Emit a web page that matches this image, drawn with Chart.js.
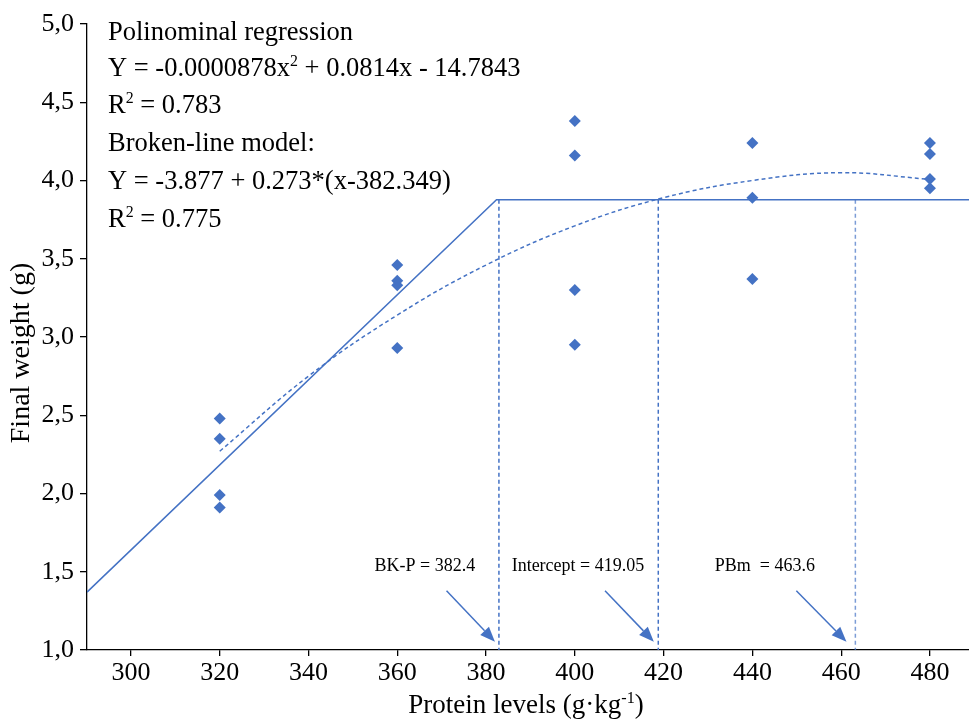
<!DOCTYPE html>
<html>
<head>
<meta charset="utf-8">
<script src="https://cdn.jsdelivr.net/npm/chart.js@4.4.1/dist/chart.umd.min.js"></script>
<style>
  html, body { margin: 0; padding: 0; background: #fff; overflow: hidden; }
  #wrap { width: 975px; height: 720px; position: relative; }
</style>
</head>
<body>
<div id="wrap"><canvas id="weightChart"></canvas></div>
<script>
// observed final weights per protein level
const proteinLevels = [320, 360, 400, 440, 480];
const finalWeights = [
    [2.48, 2.35, 1.99, 1.91],
    [3.46, 3.36, 3.33, 2.93],
    [4.38, 4.16, 3.30, 2.95],
    [4.24, 3.89, 3.37],
    [4.24, 4.17, 4.01, 3.95]
];

// broken-line model
const brokenX = [290.1, 382.35, 488.8];
const brokenY = [1.37, 3.877, 3.877];

// polynomial curve
const polyX = [320, 340, 360, 380, 400, 420, 440, 460, 479];
const polyY = [2.27, 2.75, 3.14, 3.46, 3.71, 3.89, 4.00, 4.05, 4.01];

// vertical reference lines: BK-P, intercept, PBm
const cutX = [382.9, 418.8, 463.2];
const cutTop = 3.877;
const cutLabels = ['BK-P = 382.4', 'Intercept = 419.05', 'PBm  = 463.6'];

// arrows pointing at the reference lines
const arrowFromX = [371.1, 406.8, 449.9];
const arrowToX = [382.0, 417.8, 461.2];
const arrowFromY = 1.378;
const arrowToY = 1.053;
const labelX = [366.2, 400.7, 442.8];
const labelY = 1.537;

const xTicks = [300, 320, 340, 360, 380, 400, 420, 440, 460, 480];
const yTicks = [1.0, 1.5, 2.0, 2.5, 3.0, 3.5, 4.0, 4.5, 5.0];

const BLUE = '#4472C4';
const SERIF = "'Times New Roman', 'Liberation Serif', serif";

const points = [];
proteinLevels.forEach((lvl, i) => {
    finalWeights[i].forEach(w => points.push({ x: lvl, y: w }));
});

const datasets = [
    {
        data: points,
        pointStyle: 'rectRot',
        pointRadius: 6,
        backgroundColor: BLUE,
        borderColor: BLUE,
        borderWidth: 0,
        showLine: false,
        order: 0
    },
    {
        data: brokenX.map((x, i) => ({ x: x, y: brokenY[i] })),
        showLine: true,
        borderColor: BLUE,
        borderWidth: 1.5,
        pointRadius: 0,
        order: 1
    },
    {
        data: polyX.map((x, i) => ({ x: x, y: polyY[i] })),
        showLine: true,
        borderColor: BLUE,
        borderWidth: 1.5,
        borderDash: [4, 3],
        tension: 0.4,
        pointRadius: 0,
        order: 1
    }
];

cutX.forEach((x, i) => {
    datasets.push({
        data: [{ x: x, y: cutTop }, { x: x, y: 1.0 }],
        showLine: true,
        borderColor: i === 2 ? 'rgba(68,114,196,0.7)' : BLUE,
        borderWidth: 1.5,
        borderDash: [4, 3],
        pointRadius: 0,
        order: 2
    });
});

function drawRich(ctx, parts, x, y, size) {
    let cx = x;
    parts.forEach(p => {
        const sup = p[1];
        const fs = sup ? size * 0.6 : size;
        ctx.font = fs + 'px ' + SERIF;
        ctx.fillText(p[0], cx, sup ? y - size * 0.38 : y);
        cx += ctx.measureText(p[0]).width;
    });
    return cx - x;
}

function measureRich(ctx, parts, size) {
    let w = 0;
    parts.forEach(p => {
        ctx.font = (p[1] ? size * 0.6 : size) + 'px ' + SERIF;
        w += ctx.measureText(p[0]).width;
    });
    return w;
}

const annotations = {
    id: 'annotations',
    afterDatasetsDraw(chart) {
        const ctx = chart.ctx;
        const xs = chart.scales.x;
        const ys = chart.scales.y;
        ctx.save();

        // arrows
        ctx.strokeStyle = BLUE;
        ctx.fillStyle = BLUE;
        ctx.lineWidth = 1.5;
        arrowFromX.forEach((fx, i) => {
            const x1 = xs.getPixelForValue(fx), y1 = ys.getPixelForValue(arrowFromY);
            const x2 = xs.getPixelForValue(arrowToX[i]), y2 = ys.getPixelForValue(arrowToY);
            const ang = Math.atan2(y2 - y1, x2 - x1);
            const len = 15, hw = 6;
            const bx = x2 - Math.cos(ang) * len, by = y2 - Math.sin(ang) * len;
            ctx.beginPath();
            ctx.moveTo(x1, y1);
            ctx.lineTo(bx, by);
            ctx.stroke();
            ctx.beginPath();
            ctx.moveTo(x2, y2);
            ctx.lineTo(bx + Math.sin(ang) * hw, by - Math.cos(ang) * hw);
            ctx.lineTo(bx - Math.sin(ang) * hw, by + Math.cos(ang) * hw);
            ctx.closePath();
            ctx.fill();
        });

        // labels above the arrows
        ctx.fillStyle = '#000';
        ctx.font = '18px ' + SERIF;
        ctx.textAlign = 'center';
        ctx.textBaseline = 'middle';
        cutLabels.forEach((t, i) => {
            ctx.fillText(t, xs.getPixelForValue(labelX[i]), ys.getPixelForValue(labelY));
        });
        ctx.restore();
    },
    afterDraw(chart) {
        const ctx = chart.ctx;
        const area = chart.chartArea;
        ctx.save();
        ctx.fillStyle = '#000';
        ctx.textAlign = 'left';
        ctx.textBaseline = 'alphabetic';

        // equations block
        const lines = [
            [['Polinominal regression', false]],
            [['Y = -0.0000878x', false], ['2', true], [' + 0.0814x - 14.7843', false]],
            [['R', false], ['2', true], [' = 0.783', false]],
            [['Broken-line model:', false]],
            [['Y = -3.877 + 0.273*(x-382.349)', false]],
            [['R', false], ['2', true], [' = 0.775', false]]
        ];
        const baselines = [40, 76, 113, 151, 189, 227];
        lines.forEach((parts, i) => drawRich(ctx, parts, area.left + 21, baselines[i], 26.5));

        // x axis title
        const xt = [['Protein levels (g\u00b7kg', false], ['-1', true], [')', false]];
        const w = measureRich(ctx, xt, 27);
        drawRich(ctx, xt, 526 - w / 2, 713, 27);

        // y axis title
        ctx.translate(22, 353);
        ctx.rotate(-Math.PI / 2);
        ctx.textAlign = 'center';
        ctx.textBaseline = 'middle';
        ctx.font = '28px ' + SERIF;
        ctx.fillText('Final weight (g)', 0, 0);
        ctx.restore();
    }
};

new Chart(document.getElementById('weightChart'), {
    type: 'scatter',
    data: { datasets: datasets },
    options: {
        responsive: true,
        maintainAspectRatio: false,
        animation: false,
        layout: { padding: { top: 24, right: 0, bottom: 0, left: 0 } },
        plugins: {
            legend: { display: false },
            tooltip: { enabled: false }
        },
        scales: {
            x: {
                type: 'linear',
                min: 290.1,
                max: 488.8,
                afterBuildTicks: scale => { scale.ticks = xTicks.map(v => ({ value: v })); },
                afterFit: scale => { scale.height = 70; },
                grid: { drawOnChartArea: false, drawTicks: true, tickLength: 6, color: '#000', lineWidth: 1.3 },
                border: { color: '#000', width: 1.3 },
                ticks: {
                    color: '#000',
                    padding: 2,
                    maxRotation: 0,
                    autoSkip: false,
                    font: { family: SERIF, size: 26 }
                }
            },
            y: {
                type: 'linear',
                min: 1.0,
                max: 5.0,
                afterBuildTicks: scale => { scale.ticks = yTicks.map(v => ({ value: v })); },
                afterFit: scale => { scale.width = 87; },
                grid: { drawOnChartArea: false, drawTicks: true, tickLength: 7, color: '#000', lineWidth: 1.3 },
                border: { color: '#000', width: 1.3 },
                ticks: {
                    color: '#000',
                    padding: 6,
                    autoSkip: false,
                    font: { family: SERIF, size: 26 },
                    callback: v => v.toFixed(1).replace('.', ',')
                }
            }
        }
    },
    plugins: [annotations]
});
</script>
</body>
</html>
